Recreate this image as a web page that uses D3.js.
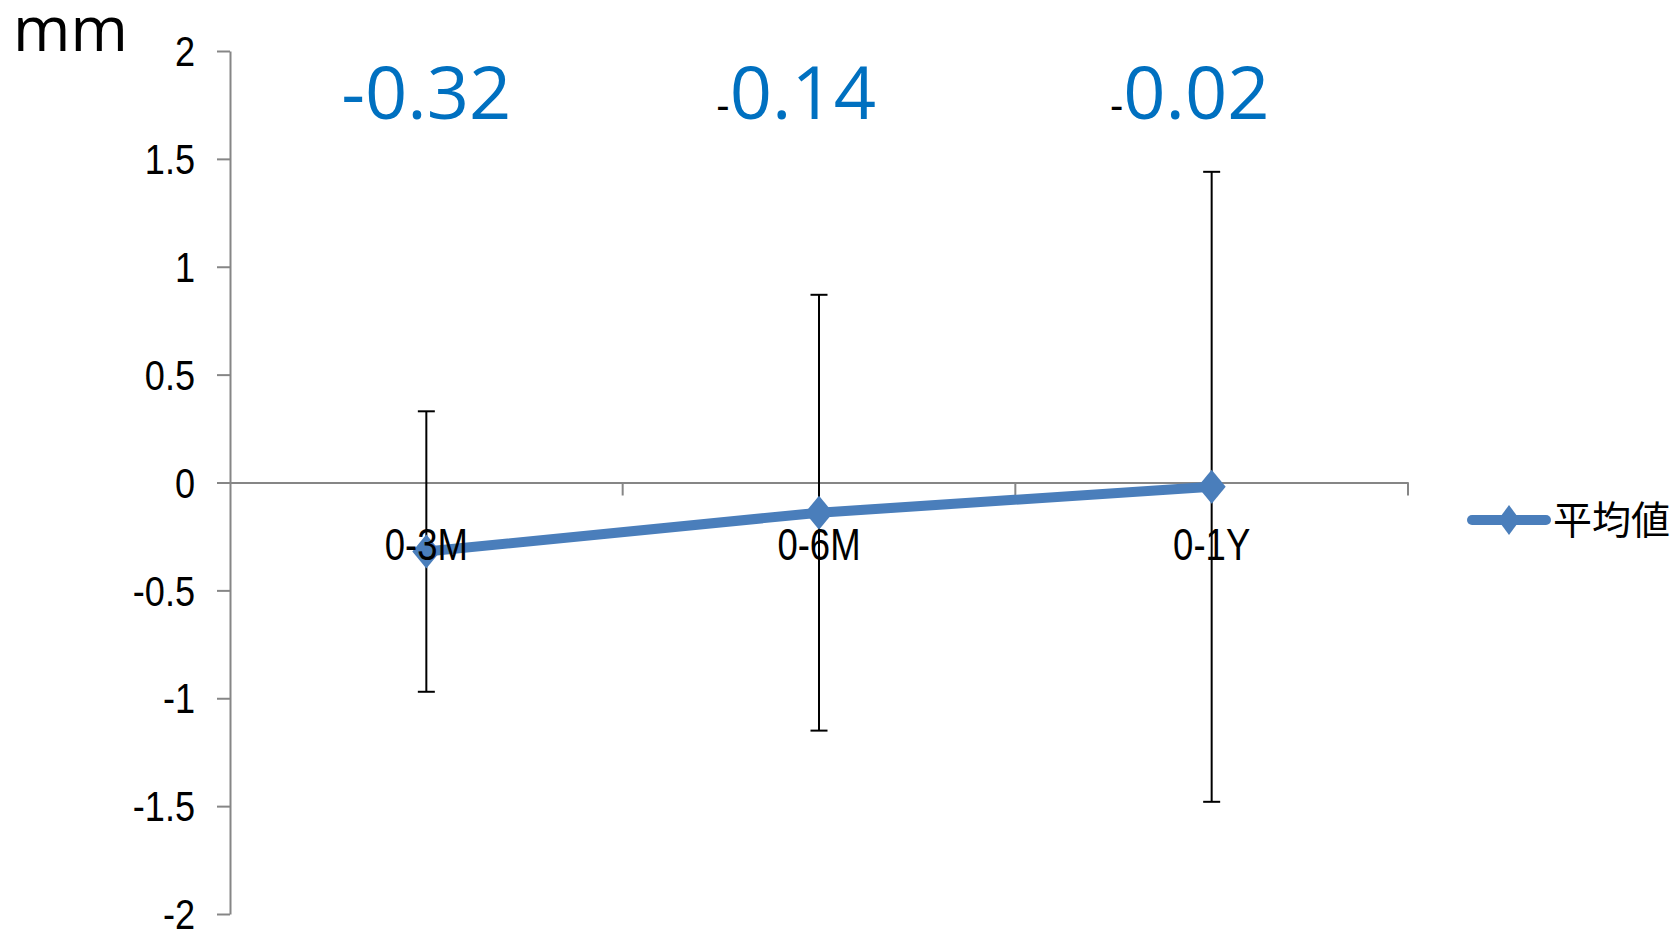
<!DOCTYPE html>
<html><head><meta charset="utf-8">
<script src="https://cdn.jsdelivr.net/npm/d3@7"></script>
<style>body{margin:0;background:#fff}</style>
</head><body><svg id="chart" width="1676" height="930"></svg>
<script>
// ---- data ----
const categories = ["0-3M", "0-6M", "0-1Y"];
const meanValues = [-0.32, -0.14, -0.02];
const errorUpper = [0.33, 0.87, 1.44];
const errorLower = [-0.97, -1.15, -1.48];
const yTickValues = [-2, -1.5, -1, -0.5, 0, 0.5, 1, 1.5, 2];
const yTickLabels = ["-2", "-1.5", "-1", "-0.5", "0", "0.5", "1", "1.5", "2"];
const seriesName = "平均値";
const unitLabel = "mm";

// ---- layout / style ----
const labelOffset = [85, 57, 58];       // right edge of value label relative to category centre
const labelSmallMinus = [false, true, true];
const axisColor = "#868686";
const lineColor = "#4A7EBB";
const valueColor = "#0070C0";
const narrowFont = "'Liberation Sans', Arial, sans-serif";

const svg = d3.select("#chart");
const x = d3.scaleBand().domain(categories).range([230, 1408]).padding(0);
const y = d3.scaleLinear().domain([-2, 2]).range([914, 51]);
const cx = c => x(c) + x.bandwidth() / 2;

// unit label
svg.append("text").attr("x", 13).attr("y", 51)
  .attr("font-family", "'Open Sans', sans-serif").attr("font-size", 62)
  .attr("fill", "#000").text(unitLabel);

// y axis
const yAxis = svg.append("g").attr("transform", `translate(${x.range()[0]},0)`)
  .call(d3.axisLeft(y).tickValues(yTickValues).tickSize(13).tickSizeOuter(0)
    .tickFormat((d, i) => yTickLabels[i]));
yAxis.select(".domain").attr("stroke", axisColor).attr("stroke-width", 2);
yAxis.selectAll(".tick line").attr("stroke", axisColor).attr("stroke-width", 2);
yAxis.selectAll(".tick text")
  .attr("x", 0).attr("dy", "0.35em")
  .attr("transform", "translate(-35,0) scale(0.86,1)")
  .attr("font-family", narrowFont).attr("font-size", 42).attr("fill", "#000")
  .attr("text-anchor", "end");

// x axis at zero (line + boundary ticks)
const xAxis = svg.append("g").attr("transform", `translate(0,${y(0)})`)
  .call(d3.axisBottom(x).tickSize(0).tickSizeOuter(0).tickFormat(""));
xAxis.select(".domain").attr("stroke", axisColor).attr("stroke-width", 2);
xAxis.selectAll("line.bound").data(categories).join("line").attr("class", "bound")
  .attr("x1", d => x(d) + x.bandwidth()).attr("x2", d => x(d) + x.bandwidth())
  .attr("y1", 0).attr("y2", 13)
  .attr("stroke", axisColor).attr("stroke-width", 2);

// error bars
const eb = svg.append("g");
categories.forEach((c, i) => {
  const px = cx(c);
  eb.append("line").attr("x1", px).attr("x2", px)
    .attr("y1", y(errorUpper[i])).attr("y2", y(errorLower[i]))
    .attr("stroke", "#000").attr("stroke-width", 2);
  [errorUpper[i], errorLower[i]].forEach(v => {
    eb.append("line").attr("x1", px - 8.5).attr("x2", px + 8.5)
      .attr("y1", y(v)).attr("y2", y(v))
      .attr("stroke", "#000").attr("stroke-width", 2);
  });
});

// mean line + markers
const pts = categories.map((c, i) => [cx(c), y(meanValues[i])]);
svg.append("path").attr("d", d3.line()(pts))
  .attr("fill", "none").attr("stroke", lineColor).attr("stroke-width", 10)
  .attr("stroke-linejoin", "round");
const diamond = (w, h) => `M0,${-h}L${w},0L0,${h}L${-w},0Z`;
svg.append("g").selectAll("path").data(pts).join("path")
  .attr("transform", d => `translate(${d[0]},${d[1]})`)
  .attr("d", diamond(14, 17)).attr("fill", lineColor);

// category labels (drawn on top)
svg.append("g").selectAll("text").data(categories).join("text")
  .attr("transform", d => `translate(${cx(d)},${y(0) + 77}) scale(0.83,1)`)
  .attr("text-anchor", "middle")
  .attr("font-family", narrowFont).attr("font-size", 44).attr("fill", "#000")
  .text(d => d);

// value labels
categories.forEach((c, i) => {
  const t = svg.append("text").attr("x", cx(c) + labelOffset[i]).attr("y", 119)
    .attr("text-anchor", "end");
  const v = meanValues[i];
  const body = Math.abs(v).toFixed(2);
  if (v < 0) {
    if (labelSmallMinus[i]) {
      t.append("tspan").attr("font-family", narrowFont).attr("font-size", 40)
        .attr("fill", "#000").text("-");
    } else {
      t.append("tspan").attr("font-family", "'Open Sans', sans-serif").attr("font-size", 74)
        .attr("fill", valueColor).text("-");
    }
  }
  t.append("tspan").attr("font-family", "'Open Sans', sans-serif").attr("font-size", 74)
    .attr("fill", valueColor).text(body);
});

// legend
const lg = svg.append("g").attr("transform", "translate(0,520)");
lg.append("line").attr("x1", 1472).attr("x2", 1546).attr("y1", 0).attr("y2", 0)
  .attr("stroke", lineColor).attr("stroke-width", 10).attr("stroke-linecap", "round");
lg.append("path").attr("transform", "translate(1509,0)").attr("d", diamond(11, 15)).attr("fill", lineColor);
lg.append("text").attr("x", 1553).attr("y", 0).attr("dy", "0.35em")
  .attr("font-family", "'Noto Sans CJK JP', sans-serif").attr("font-size", 39)
  .attr("fill", "#000").text(seriesName);
</script>
</body></html>
